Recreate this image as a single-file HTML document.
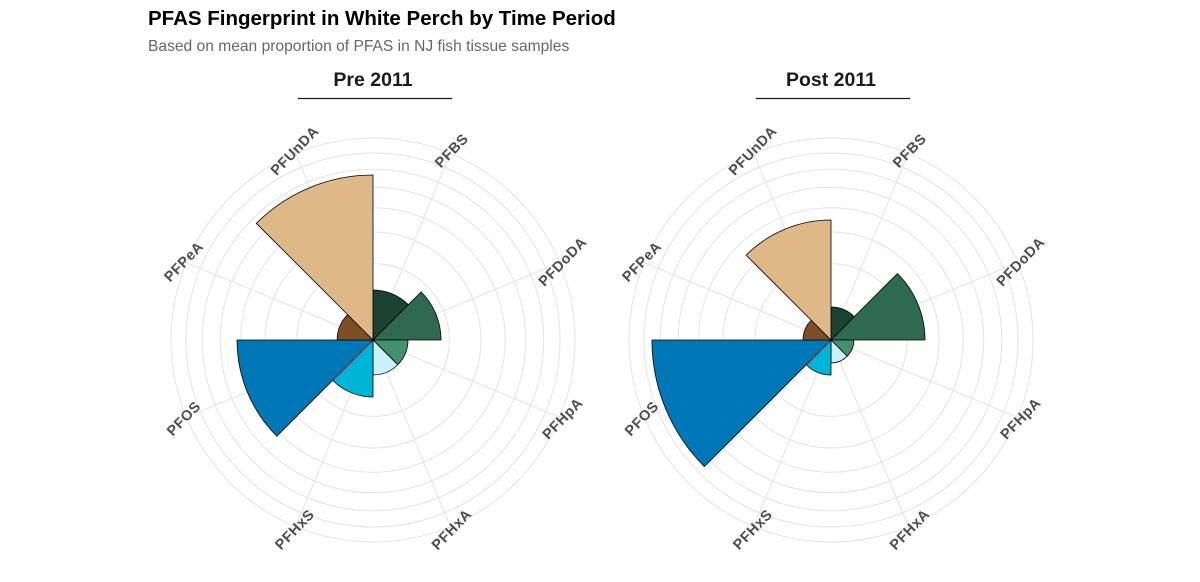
<!DOCTYPE html>
<html><head><meta charset="utf-8">
<style>
body{margin:0;background:#fff;}
svg{display:block;font-family:"Liberation Sans",Arial,sans-serif;}
</style></head>
<body>
<svg id="chart" width="1200" height="582" viewBox="0 0 1200 582">
<text x="148" y="25" font-size="20.5" font-weight="bold" fill="#000">PFAS Fingerprint in White Perch by Time Period</text>
<text x="148" y="51" font-size="15.6" fill="#666">Based on mean proportion of PFAS in NJ fish tissue samples</text>
<g id="panels"></g>
</svg>
<script>
const categories = ["PFBS","PFDoDA","PFHpA","PFHxA","PFHxS","PFOS","PFPeA","PFUnDA"];
const colors = ["#1b4332","#2d6a4f","#40916c","#caf0f8","#00b4d8","#0077b6","#7f4f24","#deb887"];
const panelTitles = ["Pre 2011","Post 2011"];
const pre2011 = [0.0214,0.0397,0.0105,0.0105,0.0279,0.1587,0.011,0.2335];
const post2011 = [0.0093,0.0758,0.0045,0.0045,0.0105,0.275,0.0067,0.1235];
const gridBreaks = [0.05,0.10,0.15,0.20,0.25,0.30,0.35];

const NS="http://www.w3.org/2000/svg";
const R_MAX=202, V_MAX=0.35;
function rScale(v){return R_MAX*Math.sqrt(v/V_MAX);}
function aScale(i){return i*2*Math.PI/categories.length;}
function pt(cx,cy,r,a){return [cx+r*Math.sin(a), cy-r*Math.cos(a)];}
function mk(tag,attrs,parent){const e=document.createElementNS(NS,tag);for(const k in attrs)e.setAttribute(k,attrs[k]);parent.appendChild(e);return e;}

const root=document.getElementById('panels');
const seriesList=[pre2011,post2011];
const centers=[[373,340],[831,340]];
seriesList.forEach((vals,p)=>{
  const [cx,cy]=centers[p];
  const g=mk('g',{},root);
  
  
  const t=mk('text',{x:cx,y:86,'text-anchor':'middle','font-size':19.5,'font-weight':'bold',fill:'#1a1a1a'},g);
  t.textContent=panelTitles[p];
  
  
  const u=mk('line',{x1:cx-75,x2:cx+79,y1:98.5,y2:98.5,stroke:'#1a1a1a','stroke-width':1.3},g);
  
  
  gridBreaks.forEach(b=>{
    const c=mk('circle',{cx:cx,cy:cy,r:rScale(b),fill:'none',stroke:'#e3e3e3','stroke-width':1},g);
    
    
  });
  categories.forEach((c,i)=>{
    const am=aScale(i+0.5);
    const [x2,y2]=pt(cx,cy,212,am);
    const s=mk('line',{x1:cx,y1:cy,x2:x2,y2:y2,stroke:'#e3e3e3','stroke-width':1},g);
    
    
  });
  vals.forEach((v,i)=>{
    const r=rScale(v), a0=aScale(i), a1=aScale(i+1);
    const [x0,y0]=pt(cx,cy,r,a0), [x1,y1]=pt(cx,cy,r,a1);
    const path=mk('path',{d:`M${cx},${cy}L${x0},${y0}A${r},${r} 0 0 1 ${x1},${y1}Z`,fill:colors[i],stroke:'#000','stroke-width':0.8},g);
    
    
  });
  categories.forEach((c,i)=>{
    const am=aScale(i+0.5);
    const [lx,ly]=pt(cx,cy,205,am);
    const l=mk('text',{x:lx,y:ly+5,'text-anchor':'middle','font-size':14.5,'font-weight':'bold','letter-spacing':'0.5',fill:'#4d4d4d',transform:`rotate(-46 ${lx} ${ly})`},g);
    l.textContent=c;
    
    
  });
});
</script>
</body></html>
